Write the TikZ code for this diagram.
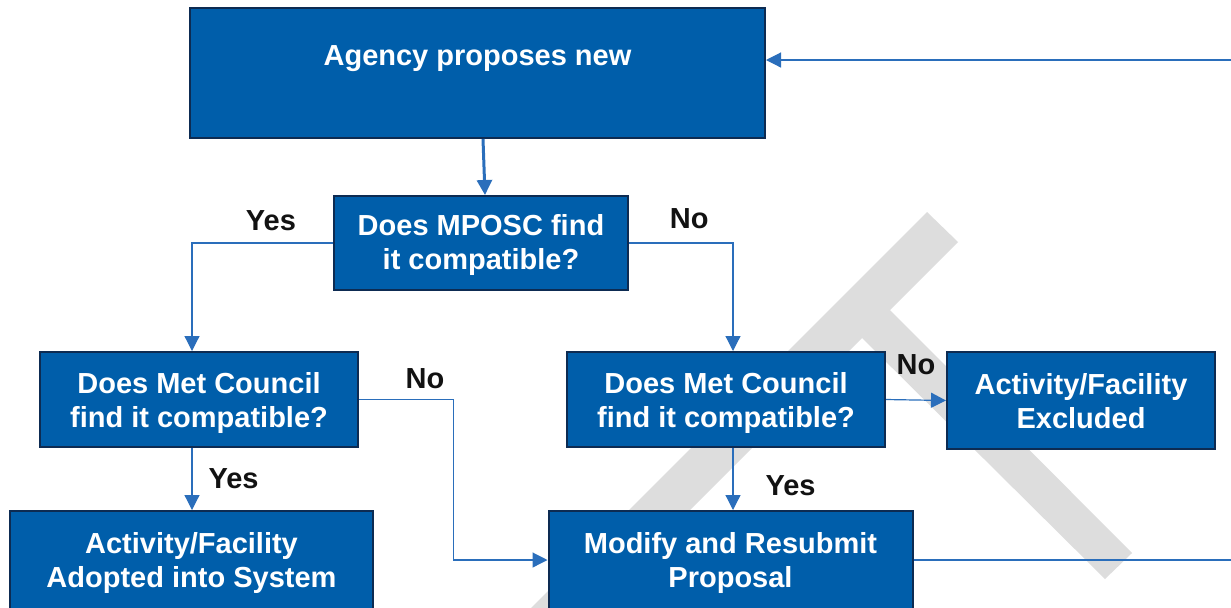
\documentclass[tikz,border=0pt]{standalone}
\usepackage{fontspec}
\setmainfont{Liberation Sans}
\usetikzlibrary{arrows.meta,positioning,calc}
\definecolor{boxblue}{HTML}{005EAA}
\definecolor{boxline}{HTML}{0D2B52}
\definecolor{linkblue}{HTML}{2A6EBB}
\definecolor{wmgray}{HTML}{DDDDDD}

\begin{document}
\begin{tikzpicture}[x=0.5pt,y=-0.5pt,-{Triangle[length=7.5pt,width=7.5pt]},line width=0.6pt,
  every node/.style={font=\fontsize{14.5}{17}\selectfont\bfseries}]
\tikzstyle{box}=[rectangle,draw=boxline,line width=1pt,fill=boxblue,text=white,align=center,inner sep=0pt,text depth=0pt]
\tikzstyle{answer}=[text=black!93,inner sep=0pt]
\tikzstyle{link}=[draw=linkblue]
%
\useasboundingbox (0,0) rectangle (1231,607);
\clip (0,0) rectangle (1231,607);
% watermark behind the chart
\fill[wmgray] (927,212) -- (958,242) -- (890,310) -- (1132,553) -- (1105,579) -- (862,338) -- (500,700) -- (439,700) -- cycle;
%
\node[box,minimum width=287.5pt,minimum height=65pt,text depth=17pt] (prop) at (477.5,73) {Agency proposes new};
  \node[box,minimum width=147pt,minimum height=47pt,text depth=1pt] (mposc) at (481,243) {Does MPOSC find\\it compatible?};
  \node[box,minimum width=159pt,minimum height=47.5pt,text depth=-1pt] (mc1) at (199,399.5) {Does Met Council\\find it compatible?};
  \node[box,minimum width=159pt,minimum height=47.5pt,text depth=-1pt] (mc2) at (726,399.5) {Does Met Council\\find it compatible?};
  \node[box,minimum width=134pt,minimum height=48.5pt] (excl) at (1081,400.5) {Activity/Facility\\Excluded};
  \node[box,minimum width=181.5pt,minimum height=49pt] (adopt) at (191.5,560) {Activity/Facility\\Adopted into System};
  \node[box,minimum width=182pt,minimum height=49pt] (mod) at (730.5,560) {Modify and Resubmit\\Proposal};
  \coordinate (knee) at ($(mc1.east)!0.5!(mod.west)$);
  \coordinate (loop) at (1300,0);
  \coordinate (pin) at ([yshift=6.5pt]prop.east);

  \draw[link,line width=1.5pt] ([xshift=1pt]prop.south -| mposc.north) -- ([xshift=2pt]mposc.north);
  \draw[link] (mposc.west) -| node[answer,pos=0.22,above=5.75pt] {Yes} ([xshift=-3.5pt]mc1.north);
  \draw[link] (mposc.east) -| node[answer,pos=0.29,above=6.75pt] {No} ([xshift=3.5pt]mc2.north);
  \draw[link] (mc2.east) -- node[answer,above=12.25pt] {No} (excl.west);
  \draw[link] (mc1.east) -- node[answer,pos=0.7,above=5.25pt] {No} (mc1.east -| knee) -- (mod.west -| knee) -- (mod.west);
  \draw[link] ([xshift=-3.5pt]mc1.south) -- node[answer,right=8pt] {Yes} ([xshift=-3.5pt]mc1.south |- adopt.north);
  \draw[link] ([xshift=3.5pt]mc2.south) -- node[answer,pos=0.6,right=16pt] {Yes} ([xshift=3.5pt]mc2.south |- mod.north);
  \draw[link] (mod.east) -- (mod.east -| loop) -- (loop |- pin) -- (pin);
\end{tikzpicture}
\end{document}
